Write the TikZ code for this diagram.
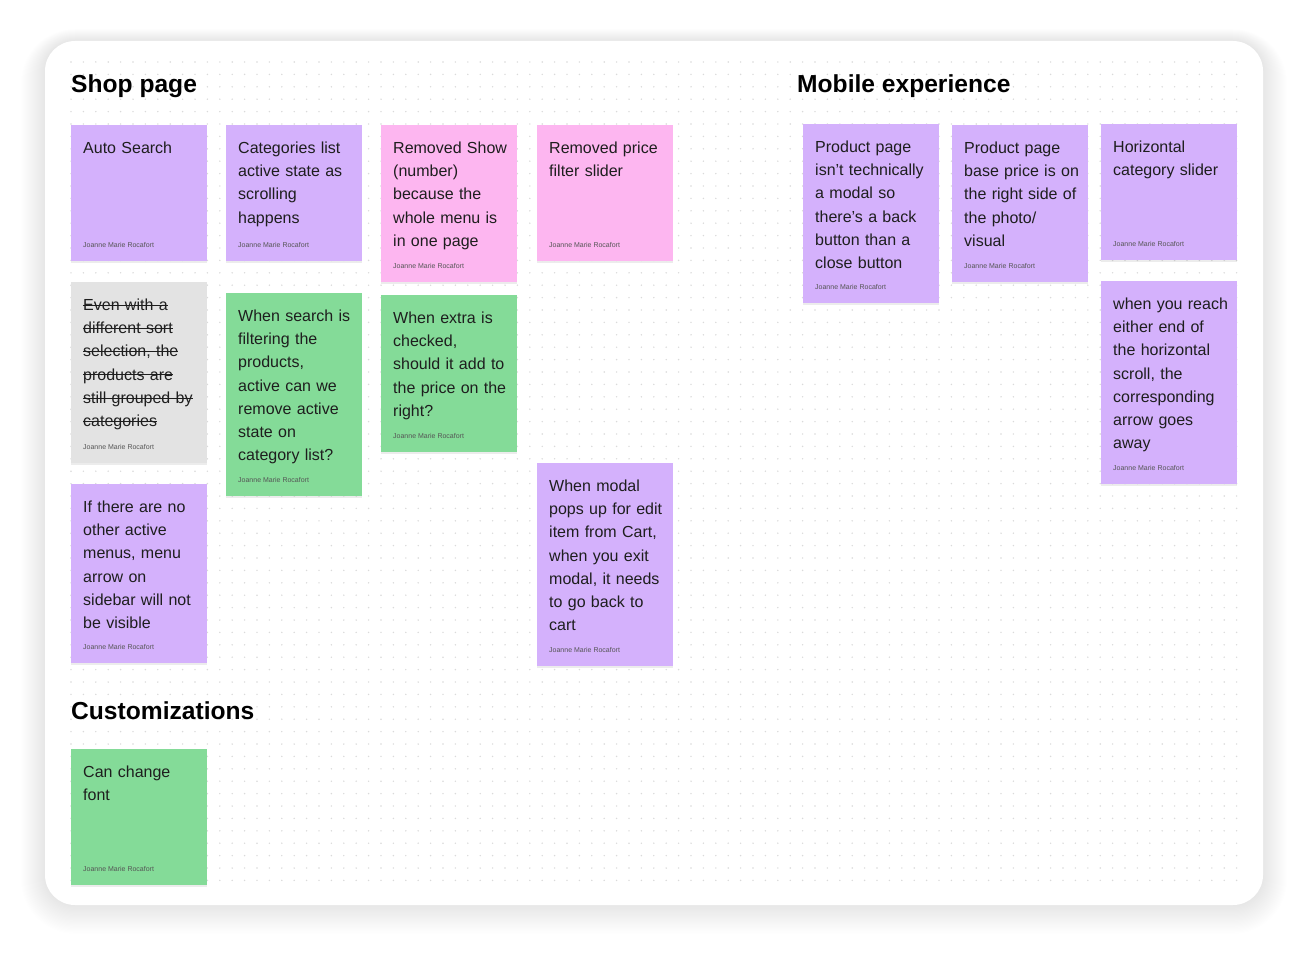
\documentclass[tikz,border=0pt]{standalone}
\usepackage{fontspec}
\setmainfont{Liberation Sans}
\usepackage{tikz}
\usetikzlibrary{shadows}
\usetikzlibrary{positioning}
\newsavebox{\strikebox}
\newcommand{\strk}[1]{\leavevmode\sbox{\strikebox}{#1}\rlap{\rule[4.6pt]{\wd\strikebox}{1pt}}\usebox{\strikebox}}
\definecolor{notepurple}{HTML}{D4B1FC}
\definecolor{notepink}{HTML}{FDB6F0}
\definecolor{notegreen}{HTML}{84DB98}
\definecolor{notegray}{HTML}{E3E3E3}
\definecolor{inkdark}{HTML}{1E1E1E}
\definecolor{inkgray}{HTML}{555555}
\definecolor{dotgray}{HTML}{DADADA}

\begin{document}
\begin{tikzpicture}[line cap=round,line join=round,x=1pt,y=-1pt,
  paper/.style={rectangle, anchor=north west, minimum width=136pt, inner sep=0pt,
    drop shadow={shadow xshift=0pt, shadow yshift=-1.5pt, opacity=0.15}},
  notetext/.style={anchor=north west, inner sep=0pt, text width=132pt, align=left,
    text=inkdark, font=\fontsize{16}{23.2}\selectfont, execute at begin node=\strut},
  author/.style={anchor=base west, inner sep=0pt, text=inkgray, font=\fontsize{7}{8}\selectfont},
  heading/.style={anchor=base west, inner sep=0pt, text=black, font=\fontsize{24.6}{28}\selectfont\bfseries}]
\fill[white] (0,0) rectangle (1309,955);
\useasboundingbox (0,0) rectangle (1309,955);
% board with its soft shadow
\foreach \k in {1,...,24}{
  \pgfmathsetmacro{\rr}{30+\k}
  \fill[black, opacity=0.0035, rounded corners=\rr pt] (45-\k,41-0.5*\k) rectangle (1263+\k,905+1.2*\k);
}
\fill[white, rounded corners=30pt] (45,41) rectangle (1263,905);
\foreach \i in {0,...,94}{
  \foreach \j in {0,...,66}{
    \fill[dotgray] (71+\i*12.4,62+\j*12.4) circle (0.8pt);
  }
}
% headings
\node[heading] (shop) at (71,93) {Shop page};
\node[heading] (mobile) at (797,93) {Mobile experience};
\node[heading] (custom) at (71,719) {Customizations};
% shop page, first row
\node[paper, fill=notepurple, minimum height=136pt] (autosearch) at (71,125) {};
\node[notetext] (autosearch text) at ([xshift=12pt,yshift=-12pt]autosearch.north west) {Auto Search};
\node[author] (autosearch by) at ([xshift=12pt,yshift=13.5pt]autosearch.south west) {Joanne Marie Rocafort};
\node[paper, fill=notepurple, minimum height=136pt] (categories) at (226,125) {};
\node[notetext] (categories text) at ([xshift=12pt,yshift=-12pt]categories.north west) {Categories list\\active state as\\scrolling\\happens};
\node[author] (categories by) at ([xshift=12pt,yshift=13.5pt]categories.south west) {Joanne Marie Rocafort};
\node[paper, fill=notepink, minimum height=157pt] (removedshow) at (381,125) {};
\node[notetext] (removedshow text) at ([xshift=12pt,yshift=-12pt]removedshow.north west) {Removed Show\\(number)\\because the\\whole menu is\\in one page};
\node[author] (removedshow by) at ([xshift=12pt,yshift=13.5pt]removedshow.south west) {Joanne Marie Rocafort};
\node[paper, fill=notepink, minimum height=136pt] (removedprice) at (537,125) {};
\node[notetext] (removedprice text) at ([xshift=12pt,yshift=-12pt]removedprice.north west) {Removed price\\filter slider};
\node[author] (removedprice by) at ([xshift=12pt,yshift=13.5pt]removedprice.south west) {Joanne Marie Rocafort};
% shop page, lower notes
\node[paper, fill=notegray, minimum height=181pt] (evensort) at (71,282) {};
\node[notetext] (evensort text) at ([xshift=12pt,yshift=-12pt]evensort.north west) {\strk{Even with a}\\\strk{different sort}\\\strk{selection, the}\\\strk{products are}\\\strk{still grouped by}\\\strk{categories}};
\node[author] (evensort by) at ([xshift=12pt,yshift=13.5pt]evensort.south west) {Joanne Marie Rocafort};
\node[paper, fill=notegreen, minimum height=203pt] (whensearch) at (226,293) {};
\node[notetext] (whensearch text) at ([xshift=12pt,yshift=-12pt]whensearch.north west) {When search is\\filtering the\\products,\\active can we\\remove active\\state on\\category list?};
\node[author] (whensearch by) at ([xshift=12pt,yshift=13.5pt]whensearch.south west) {Joanne Marie Rocafort};
\node[paper, fill=notegreen, minimum height=157pt] (whenextra) at (381,295) {};
\node[notetext] (whenextra text) at ([xshift=12pt,yshift=-12pt]whenextra.north west) {When extra is\\checked,\\should it add to\\the price on the\\right?};
\node[author] (whenextra by) at ([xshift=12pt,yshift=13.5pt]whenextra.south west) {Joanne Marie Rocafort};
\node[paper, fill=notepurple, minimum height=179pt] (nomenus) at (71,484) {};
\node[notetext] (nomenus text) at ([xshift=12pt,yshift=-12pt]nomenus.north west) {If there are no\\other active\\menus, menu\\arrow on\\sidebar will not\\be visible};
\node[author] (nomenus by) at ([xshift=12pt,yshift=13.5pt]nomenus.south west) {Joanne Marie Rocafort};
\node[paper, fill=notepurple, minimum height=203pt] (whenmodal) at (537,463) {};
\node[notetext] (whenmodal text) at ([xshift=12pt,yshift=-12pt]whenmodal.north west) {When modal\\pops up for edit\\item from Cart,\\when you exit\\modal, it needs\\to go back to\\cart};
\node[author] (whenmodal by) at ([xshift=12pt,yshift=13.5pt]whenmodal.south west) {Joanne Marie Rocafort};
% customizations
\node[paper, fill=notegreen, minimum height=136pt] (changefont) at (71,749) {};
\node[notetext] (changefont text) at ([xshift=12pt,yshift=-12pt]changefont.north west) {Can change\\font};
\node[author] (changefont by) at ([xshift=12pt,yshift=13.5pt]changefont.south west) {Joanne Marie Rocafort};
% mobile experience
\node[paper, fill=notepurple, minimum height=179pt] (notmodal) at (803,124) {};
\node[notetext] (notmodal text) at ([xshift=12pt,yshift=-12pt]notmodal.north west) {Product page\\isn’t technically\\a modal so\\there’s a back\\button than a\\close button};
\node[author] (notmodal by) at ([xshift=12pt,yshift=13.5pt]notmodal.south west) {Joanne Marie Rocafort};
\node[paper, fill=notepurple, minimum height=157pt] (baseprice) at (952,125) {};
\node[notetext] (baseprice text) at ([xshift=12pt,yshift=-12pt]baseprice.north west) {Product page\\base price is on\\the right side of\\the photo/\\visual};
\node[author] (baseprice by) at ([xshift=12pt,yshift=13.5pt]baseprice.south west) {Joanne Marie Rocafort};
\node[paper, fill=notepurple, minimum height=136pt] (hslider) at (1101,124) {};
\node[notetext] (hslider text) at ([xshift=12pt,yshift=-12pt]hslider.north west) {Horizontal\\category slider};
\node[author] (hslider by) at ([xshift=12pt,yshift=13.5pt]hslider.south west) {Joanne Marie Rocafort};
\node[paper, fill=notepurple, minimum height=203pt] (reachend) at (1101,281) {};
\node[notetext] (reachend text) at ([xshift=12pt,yshift=-12pt]reachend.north west) {when you reach\\either end of\\the horizontal\\scroll, the\\corresponding\\arrow goes\\away};
\node[author] (reachend by) at ([xshift=12pt,yshift=13.5pt]reachend.south west) {Joanne Marie Rocafort};
\end{tikzpicture}
\end{document}
